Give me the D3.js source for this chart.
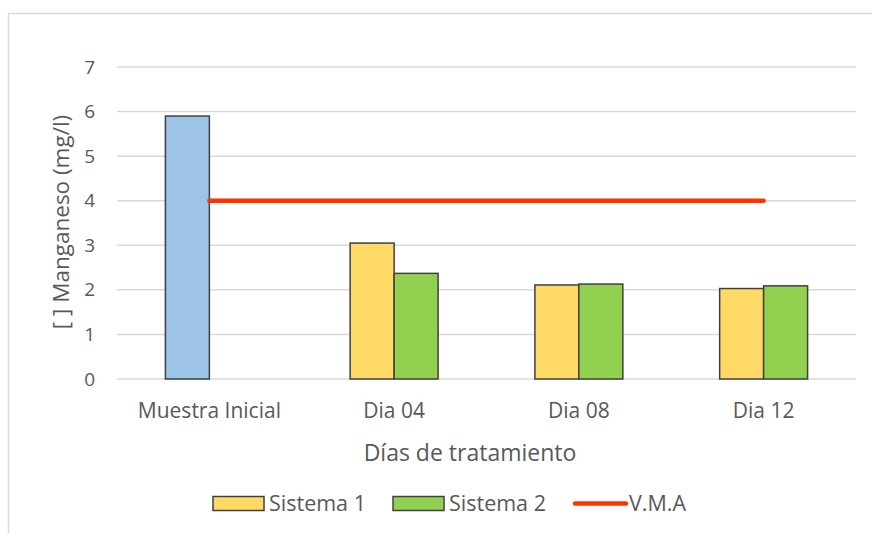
<!DOCTYPE html>
<html>
<head>
<meta charset="utf-8">
<style>
  body { margin: 0; background: #fff; }
  svg text { font-family: "Open Sans", sans-serif; fill: #595959; }
</style>
</head>
<body>
<div id="chart"></div>
<script src="https://cdn.jsdelivr.net/npm/d3@7"></script>
<script>
// data
var categories = ["Muestra Inicial", "Dia 04", "Dia 08", "Dia 12"];
var muestraInicial = [5.9, null, null, null];
var sistema1 = [null, 3.05, 2.11, 2.03];
var sistema2 = [null, 2.37, 2.13, 2.09];
var vma = [4, 4, 4, 4];
var yTicks = [0, 1, 2, 3, 4, 5, 6, 7];

var width = 872, height = 533;
var margin = {top: 67, right: 16, bottom: 154, left: 117};

var svg = d3.select("#chart").append("svg")
    .attr("width", width)
    .attr("height", height);

// chart border
svg.append("rect")
    .attr("x", 8.5).attr("y", 13.5)
    .attr("width", 880).attr("height", 540)
    .attr("fill", "none")
    .attr("stroke", "#d9d9d9")
    .attr("stroke-width", 1.5);

var x = d3.scaleBand()
    .domain(categories)
    .range([margin.left, width - margin.right])
    .paddingInner(0.524)
    .paddingOuter(0.262);

var y = d3.scaleLinear()
    .domain([0, 7])
    .range([height - margin.bottom, margin.top]);

var sub = d3.scaleBand()
    .domain(["s1", "s2"])
    .range([0, x.bandwidth()]);

// gridlines
svg.append("g")
    .selectAll("line")
    .data(yTicks)
    .join("line")
    .attr("x1", margin.left)
    .attr("x2", width - margin.right)
    .attr("y1", function(d) { return y(d); })
    .attr("y2", function(d) { return y(d); })
    .attr("stroke", "#d9d9d9")
    .attr("stroke-width", 1.5);

// y axis
var yAxis = svg.append("g")
    .attr("transform", "translate(" + (margin.left - 22) + ",0)")
    .call(d3.axisLeft(y).tickValues(yTicks).tickFormat(d3.format("d")).tickSize(0).tickPadding(0));
yAxis.select(".domain").remove();
yAxis.selectAll("text")
    .style("font-size", "19px")
    .attr("fill", "#595959");

// x axis
var xAxis = svg.append("g")
    .attr("transform", "translate(0," + y(0) + ")")
    .call(d3.axisBottom(x).tickSize(0).tickPadding(24));
xAxis.select(".domain").remove();
xAxis.selectAll("text")
    .style("font-size", "21px")
    .attr("fill", "#595959");

function drawBars(values, key, color) {
    svg.append("g")
        .selectAll("rect")
        .data(values.map(function(v, i) { return {c: categories[i], v: v}; })
                    .filter(function(d) { return d.v != null; }))
        .join("rect")
        .attr("x", function(d) { return x(d.c) + sub(key); })
        .attr("y", function(d) { return y(d.v); })
        .attr("width", sub.bandwidth())
        .attr("height", function(d) { return y(0) - y(d.v); })
        .attr("fill", color)
        .attr("stroke", "#404040")
        .attr("stroke-width", 1.5);
}

drawBars(muestraInicial, "s1", "#9dc3e6");
drawBars(sistema1, "s1", "#ffd966");
drawBars(sistema2, "s2", "#92d050");

// V.M.A line
var line = d3.line()
    .x(function(d, i) { return x(categories[i]) + x.bandwidth() / 2; })
    .y(function(d) { return y(d); });

svg.append("path")
    .attr("d", line(vma))
    .attr("fill", "none")
    .attr("stroke", "#ff3300")
    .attr("stroke-width", 4.5)
    .attr("stroke-linecap", "round");

// axis titles
svg.append("text")
    .attr("x", 470)
    .attr("y", 461)
    .attr("text-anchor", "middle")
    .style("font-size", "23px")
    .text("Días de tratamiento");

svg.append("text")
    .attr("transform", "translate(69,222) rotate(-90)")
    .attr("text-anchor", "middle")
    .style("font-size", "22.5px")
    .text("[  ] Manganeso (mg/l)");

// legend
var legend = svg.append("g").attr("transform", "translate(0,503.5)");
var items = [
    {label: "Sistema 1", color: "#ffd966", type: "rect", x: 213},
    {label: "Sistema 2", color: "#92d050", type: "rect", x: 393},
    {label: "V.M.A", color: "#ff3300", type: "line", x: 573}
];
items.forEach(function(it) {
    if (it.type === "rect") {
        legend.append("rect")
            .attr("x", it.x).attr("y", -7)
            .attr("width", 51).attr("height", 14)
            .attr("fill", it.color)
            .attr("stroke", "#404040")
            .attr("stroke-width", 1.5);
    } else {
        legend.append("line")
            .attr("x1", it.x + 2).attr("x2", it.x + 53)
            .attr("y1", 0).attr("y2", 0)
            .attr("stroke", it.color)
            .attr("stroke-width", 4.5)
            .attr("stroke-linecap", "round");
    }
    legend.append("text")
        .attr("x", it.x + 56)
        .attr("y", 0)
        .attr("dy", "0.35em")
        .style("font-size", "21.5px")
        .text(it.label);
});
</script>
</body>
</html>
